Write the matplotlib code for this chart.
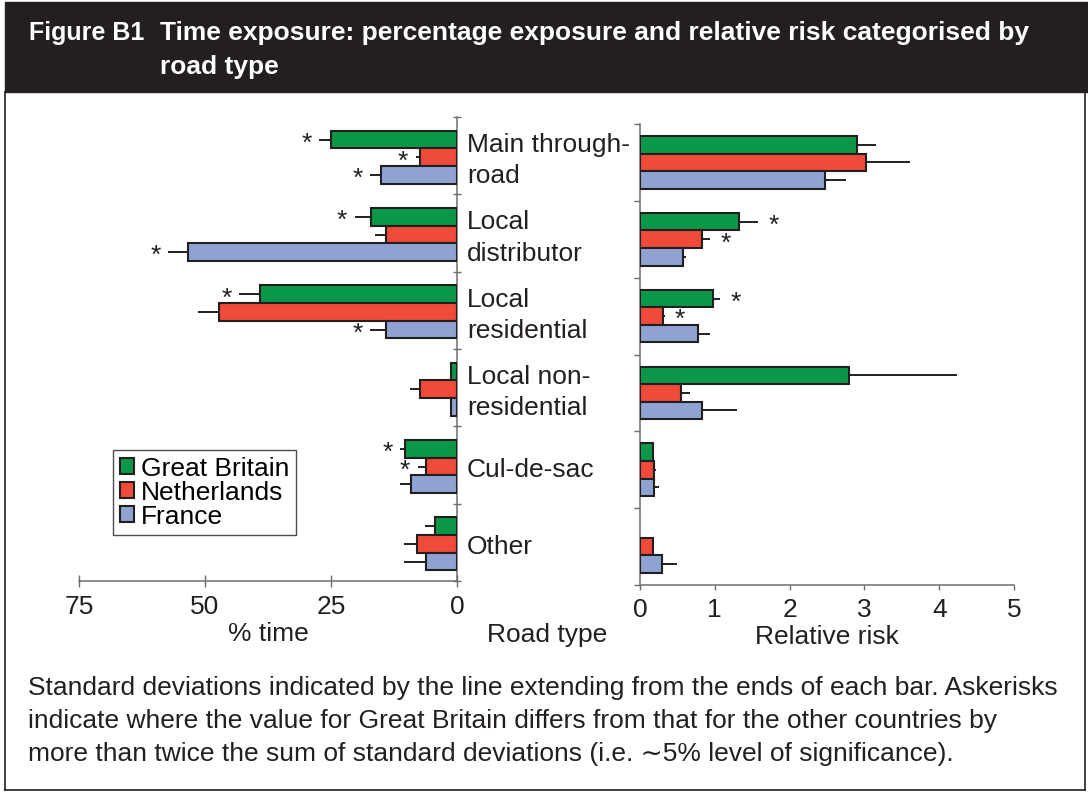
import numpy as np
import matplotlib
matplotlib.use("Agg")
import matplotlib.pyplot as plt
from matplotlib.patches import Rectangle
from matplotlib.lines import Line2D

plt.rcParams['font.family'] = ['Liberation Sans', 'DejaVu Sans']

# road types, top to bottom
categories = ["Main through-\nroad", "Local\ndistributor", "Local\nresidential",
              "Local non-\nresidential", "Cul-de-sac", "Other"]
countries = ["Great Britain", "Netherlands", "France"]

# % time exposure and its standard deviation
time_gb = [25.0, 17.1, 39.0, 1.2, 10.3, 4.3]
time_gb_sd = [2.4, 3.2, 4.3, 0.0, 1.0, 2.0]
time_nl = [7.4, 14.1, 47.3, 7.4, 6.2, 8.0]
time_nl_sd = [0.8, 2.2, 4.0, 2.0, 1.6, 2.5]
time_fr = [15.1, 53.3, 14.1, 1.2, 9.1, 6.2]
time_fr_sd = [2.2, 4.0, 3.2, 0.0, 2.2, 4.3]

# relative risk and its standard deviation (no GB value for "Other")
risk_gb = [2.90, 1.33, 0.98, 2.80, 0.17, np.nan]
risk_gb_sd = [0.26, 0.25, 0.09, 1.44, 0.02, 0.0]
risk_nl = [3.02, 0.83, 0.31, 0.55, 0.19, 0.17]
risk_nl_sd = [0.59, 0.11, 0.02, 0.12, 0.02, 0.02]
risk_fr = [2.47, 0.57, 0.77, 0.83, 0.19, 0.29]
risk_fr_sd = [0.28, 0.05, 0.17, 0.47, 0.07, 0.20]

# significant differences: (road type index, country index)
time_stars = [(0, 0), (0, 1), (0, 2), (1, 0), (1, 2), (2, 0), (2, 2), (4, 0), (4, 1)]
risk_stars = [(1, 0), (1, 1), (2, 0), (2, 1)]

colors = ['#0b9748', '#ef4a3a', '#8fa3d3']
dark = '#231f20'
axcol = '#6d6d6d'
W, H = 1088, 793
fs = 19

fig = plt.figure(figsize=(W / 100, H / 100), dpi=100)


def fx(px):
    return px / W


def fy(py):
    return 1 - py / H


# title bar
fig.patches.append(Rectangle((fx(5), fy(92)), 1 - fx(5), fy(2) - fy(92),
                             transform=fig.transFigure, color=dark, zorder=0))
fig.text(fx(29), fy(33), "Figure B1", color='white', fontsize=18,
         fontweight='bold', va='center', ha='left')
fig.text(fx(160), fy(50), "Time exposure: percentage exposure and relative risk categorised by\nroad type",
         color='white', fontsize=19, fontweight='bold', va='center', ha='left',
         linespacing=1.5)

# frame
for xs, ys in [((5, 5), (92, 790)), ((5, 1085), (790, 790)), ((1085, 1085), (92, 790))]:
    fig.add_artist(Line2D([fx(xs[0]), fx(xs[1])], [fy(ys[0]), fy(ys[1])],
                          transform=fig.transFigure, color=dark, lw=1.2))

ax1 = fig.add_axes([fx(79), fy(581), fx(457) - fx(79), fy(117) - fy(581)])
ax2 = fig.add_axes([fx(640), fy(585), fx(1014) - fx(640), fy(124) - fy(585)])

y = np.arange(len(categories))
h = 0.228


def draw(ax, vals, sds, off):
    bars = []
    for k in range(3):
        yy = y + off + (k - 1) * h
        b = ax.barh(yy, vals[k], height=h, color=colors[k], edgecolor=dark,
                    linewidth=1.5, label=countries[k], zorder=3)
        bars.append(b)
        sd = np.array(sds[k])
        ax.errorbar(vals[k], yy, xerr=[np.zeros_like(sd), sd], fmt='none',
                    ecolor=dark, elinewidth=1.4, capsize=0, zorder=2)
    return bars


time_vals = [time_gb, time_nl, time_fr]
time_sds = [time_gb_sd, time_nl_sd, time_fr_sd]
risk_vals = [risk_gb, risk_nl, risk_fr]
risk_sds = [risk_gb_sd, risk_nl_sd, risk_fr_sd]

bars = draw(ax1, time_vals, time_sds, 0.02)
draw(ax2, risk_vals, risk_sds, 0.0)

for i, k in time_stars:
    ax1.annotate('*', (time_vals[k][i] + time_sds[k][i], y[i] + 0.02 + (k - 1) * h),
                 xytext=(-9, -3), textcoords='offset points', ha='center',
                 va='center', fontsize=fs, color=dark)
for i, k in risk_stars:
    ax2.annotate('*', (risk_vals[k][i] + risk_sds[k][i], y[i] + (k - 1) * h),
                 xytext=(11, -3), textcoords='offset points', ha='center',
                 va='center', fontsize=fs, color=dark)

# left panel
ax1.set_xlim(75, 0)
ax1.set_ylim(5.5, -0.5)
for s in ['left', 'top']:
    ax1.spines[s].set_visible(False)
for s in ['right', 'bottom']:
    ax1.spines[s].set_color(axcol)
    ax1.spines[s].set_linewidth(1.1)
ax1.yaxis.tick_right()
ax1.set_yticks(np.arange(-0.5, 6, 1))
ax1.set_yticklabels([])
ax1.tick_params(axis='y', direction='inout', length=6, width=1, color=axcol)
ax1.set_xticks([75, 50, 25, 0])
ax1.tick_params(axis='x', direction='inout', length=8, width=1, color=axcol,
                labelsize=fs, labelcolor=dark, pad=6)
ax1.set_xlabel('% time', fontsize=fs, color=dark, labelpad=2)

# right panel
ax2.set_xlim(0, 5)
ax2.set_ylim(5.5, -0.5)
for s in ['right', 'top']:
    ax2.spines[s].set_visible(False)
for s in ['left', 'bottom']:
    ax2.spines[s].set_color(axcol)
    ax2.spines[s].set_linewidth(1.1)
ax2.set_yticks(np.arange(-0.5, 6, 1))
ax2.set_yticklabels([])
ax2.tick_params(axis='y', direction='out', length=4.3, width=1, color=axcol)
ax2.set_xticks(range(6))
ax2.tick_params(axis='x', direction='out', length=3.6, width=1, color=axcol,
                labelsize=fs, labelcolor=dark, pad=6)
ax2.set_xlabel('Relative risk', fontsize=fs, color=dark, labelpad=2)

# category labels between the panels
for i, c in enumerate(categories):
    ypx = 117 + (i + 0.5) * (581 - 117) / 6 + 5
    fig.text(fx(467), fy(ypx), c, fontsize=fs, color=dark, ha='left',
             va='center', linespacing=1.38)
fig.text(fx(547), fy(635), 'Road type', fontsize=fs, color=dark, ha='center', va='center')

ax1.legend(handles=bars, loc='upper left', bbox_to_anchor=(fx(113), fy(450)),
           bbox_transform=fig.transFigure, fontsize=fs, frameon=True, fancybox=False,
           edgecolor=dark, handlelength=0.55, handleheight=0.55, handletextpad=0.25,
           labelspacing=0.0, borderpad=0.25, borderaxespad=0)
ax1.get_legend().get_frame().set_linewidth(1.0)

caption = ("Standard deviations indicated by the line extending from the ends of each bar. Askerisks\n"
           "indicate where the value for Great Britain differs from that for the other countries by\n"
           "more than twice the sum of standard deviations (i.e. \u223c5% level of significance).")
fig.text(fx(28), fy(721), caption, fontsize=19, color=dark, ha='left', va='center',
         linespacing=1.5)

fig.savefig('out.png', dpi=100)
